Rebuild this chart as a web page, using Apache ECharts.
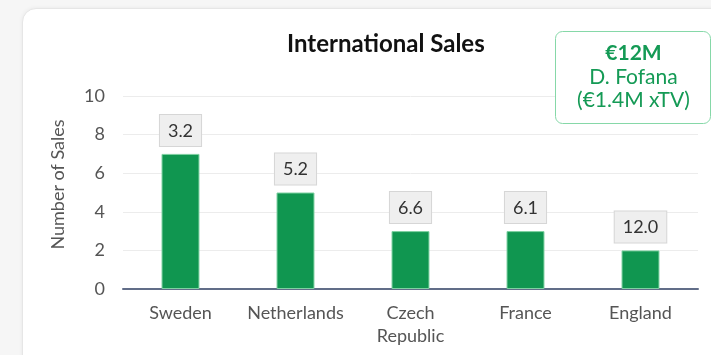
<!DOCTYPE html>
<html>
<head>
<meta charset="utf-8">
<script src="https://cdn.jsdelivr.net/npm/echarts@6/dist/echarts.min.js"></script>
<style>
  html, body { margin: 0; padding: 0; background: #f6f6f6; }
  #card {
    position: absolute; left: 22px; top: 8px; width: 760px; height: 400px;
    background: #ffffff; border: 1px solid #e6e6e6; border-radius: 14px;
    box-shadow: 0 0 4px rgba(0,0,0,0.06);
  }
  #chart { position: absolute; left: 0; top: 0; width: 711px; height: 355px; }
</style>
</head>
<body>
<div id="card"></div>
<div id="chart"></div>
<script>
// Sales count per country, with average fee (€M) shown above each bar
const countries = ['Sweden', 'Netherlands', 'Czech\nRepublic', 'France', 'England'];
const salesCount = [7, 5, 3, 3, 2];
const avgFee = [3.2, 5.2, 6.6, 6.1, 12.0];
const yTicks = [0, 2, 4, 6, 8, 10];

const font = 'Lato, "Noto Sans", sans-serif';
const green = '#149a55';
const chart = echarts.init(document.getElementById('chart'), null, { renderer: 'canvas' });

chart.setOption({
  backgroundColor: 'transparent',
  textStyle: { fontFamily: font },
  title: {
    text: 'International Sales',
    left: 282,
    top: 27,
    textStyle: { fontFamily: font, fontSize: 24, fontWeight: 'bold', color: '#111' }
  },
  grid: { left: 123, right: 13, top: 96, bottom: 66 },
  xAxis: {
    type: 'category',
    data: countries,
    axisLine: { lineStyle: { color: '#616d88', width: 2 } },
    axisTick: { show: false },
    axisLabel: {
      interval: 0, hideOverlap: false,
      fontFamily: font, fontSize: 18, color: '#555', margin: 13, lineHeight: 23
    }
  },
  yAxis: {
    type: 'value',
    min: yTicks[0],
    max: yTicks[yTicks.length - 1],
    interval: 2,
    name: 'Number of Sales',
    nameLocation: 'middle',
    nameGap: 56,
    nameTextStyle: { fontFamily: font, fontSize: 18, color: '#555', padding: [0, 0, 0, 16] },
    axisLine: { show: false },
    axisTick: { show: false },
    axisLabel: { fontFamily: font, fontSize: 18, color: '#555', margin: 18 },
    splitLine: { lineStyle: { color: '#ececec', width: 1 } }
  },
  series: [{
    type: 'bar',
    data: salesCount,
    barWidth: '33%',
    itemStyle: { color: '#109650', borderColor: '#7fd1a2', borderWidth: 1 },
    label: {
      show: true,
      position: 'top',
      distance: 8,
      formatter: p => avgFee[p.dataIndex].toFixed(1),
      fontFamily: font,
      fontSize: 18,
      color: '#333',
      backgroundColor: '#efefef',
      borderColor: '#d6d6d6',
      borderWidth: 1,
      padding: [7, 8, 6, 8]
    }
  }],
  graphic: [{
    type: 'group',
    left: 555,
    top: 31,
    z: 100,
    children: [
      {
        type: 'rect',
        z: 100,
        shape: { x: 0, y: 0, width: 155, height: 92, r: 7 },
        style: { fill: '#ffffff', stroke: '#86d8a8', lineWidth: 1 }
      },
      {
        type: 'text',
        z: 101,
        style: { x: 78, y: 22, text: '€12M', align: 'center', verticalAlign: 'middle',
                 fill: green, fontFamily: font, fontSize: 21, fontWeight: 'bold' }
      },
      {
        type: 'text',
        z: 101,
        style: { x: 78, y: 46, text: 'D. Fofana', align: 'center', verticalAlign: 'middle',
                 fill: green, fontFamily: font, fontSize: 21 }
      },
      {
        type: 'text',
        z: 101,
        style: { x: 78, y: 69, text: '(€1.4M xTV)', align: 'center', verticalAlign: 'middle',
                 fill: green, fontFamily: font, fontSize: 21 }
      }
    ]
  }]
});
</script>
</body>
</html>
